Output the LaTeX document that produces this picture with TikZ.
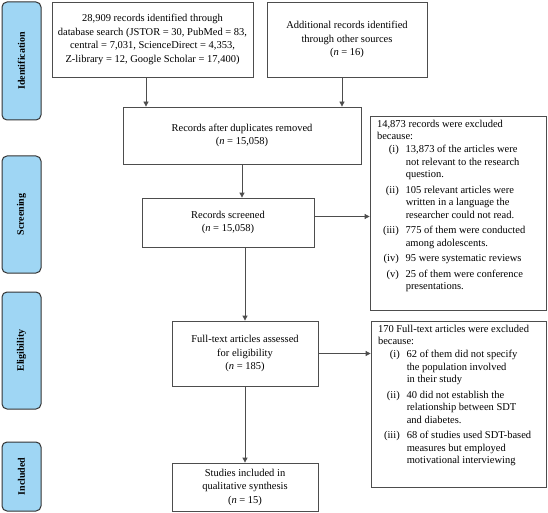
\documentclass[tikz,border=0pt]{standalone}
\usepackage{fontspec}
\setmainfont{Liberation Serif}
\usetikzlibrary{arrows.meta, positioning}
\definecolor{stageblue}{HTML}{9FD6F4}
\definecolor{lineg}{HTML}{4D4D4D}

\begin{document}
\begin{tikzpicture}[x=1pt, y=-1pt, st/.style={draw=black!80, line width=1pt, fill=stageblue, rounded corners=5pt, rotate=90, minimum height=39pt, font=\fontsize{10}{12}\selectfont\bfseries, inner sep=0pt}, bx/.style={draw=lineg, line width=0.8pt, align=center, inner sep=2pt, font=\fontsize{10.5}{13.5}\selectfont}, ex/.style={draw=lineg, line width=0.8pt, inner xsep=7pt, inner ysep=4pt, font=\fontsize{10.5}{12.5}\selectfont}, ar/.style={draw=lineg, line width=0.8pt, -{Triangle[length=5pt, width=5pt]}}]
	\useasboundingbox (0,0) rectangle (548,513);
	\node[st, minimum width=118pt] (ident) at (21.5,61) {Identification};
	\node[st, minimum width=117pt] (screen) at (21.5,214.5) {Screening};
	\node[st, minimum width=117pt] (elig) at (21.5,350.5) {Eligibility};
	\node[st, minimum width=69pt] (incl) at (21.5,476.5) {Included};
	\node[bx, minimum width=201pt, minimum height=75pt] (db) at (152.5,39.5) {28,909 records identified through\\database search (JSTOR = 30, PubMed = 83,\\central = 7,031, ScienceDirect = 4,353,\\Z-library = 12, Google Scholar = 17,400)};
	\node[bx, minimum width=160pt, minimum height=75pt] (oth) at (347,39.5) {Additional records identified\\through other sources\\(\textit{n} = 16)};
	\node[bx, minimum width=238pt, minimum height=57pt] (dup) at (242,135.5) {Records after duplicates removed\\(\textit{n} = 15,058)};
	\node[bx, minimum width=172pt, minimum height=49pt] (scr) at (228,222.5) {Records screened\\(\textit{n} = 15,058)};
	\node[bx, minimum width=146pt, minimum height=65pt] (full) at (245,353.5) {Full-text articles assessed\\for eligibility\\(\textit{n} = 185)};
	\node[bx, minimum width=146pt, minimum height=48pt] (inc) at (245,487) {Studies included in\\qualitative synthesis\\(\textit{n} = 15)};
	\node[ex] (ex1) at (458,213) {\begin{minipage}[c][186pt][t]{162pt}
		14,873 records were excluded\\because:\par\vspace{3pt}
		\begin{tabular}{@{\hspace{6pt}}r@{\hspace{7pt}}l@{}}
			(i) & 13,873 of the articles were\\
			& not relevant to the research\\
			& question.\\[3pt]
			(ii) & 105 relevant articles were\\
			& written in a language the\\
			& researcher could not read.\\[3pt]
			(iii) & 775 of them were conducted\\
			& among adolescents.\\[3pt]
			(iv) & 95 were systematic reviews\\[3pt]
			(v) & 25 of them were conference\\
			& presentations.
		\end{tabular}
	\end{minipage}};
	\node[ex] (ex2) at (458.5,404) {\begin{minipage}[c][158pt][t]{161pt}
		170 Full-text articles were excluded\\because:\par\vspace{3pt}
		\begin{tabular}{@{\hspace{6pt}}r@{\hspace{7pt}}l@{}}
			(i) & 62 of them did not specify\\
			& the population involved\\
			& in their study\\[3pt]
			(ii) & 40 did not establish the\\
			& relationship between SDT\\
			& and diabetes.\\[3pt]
			(iii) & 68 of studies used SDT-based\\
			& measures but employed\\
			& motivational interviewing
		\end{tabular}
	\end{minipage}};
	\draw[ar] ([xshift=-6.5pt]db.south) -- ([xshift=-6.5pt]db.south |- dup.north);
	\draw[ar] ([xshift=-5pt]oth.south) -- ([xshift=-5pt]oth.south |- dup.north);
	\draw[ar] (dup.south) -- (dup.south |- scr.north);
	\draw[ar] (scr.south -| full.north) -- (full.north);
	\draw[ar] (full.south) -- (inc.north);
	\draw[ar] ([yshift=6pt]scr.east) -- ([yshift=6pt]scr.east -| ex1.west);
	\draw[ar] (full.east) -- (full.east -| ex2.west);
\end{tikzpicture}
\end{document}
